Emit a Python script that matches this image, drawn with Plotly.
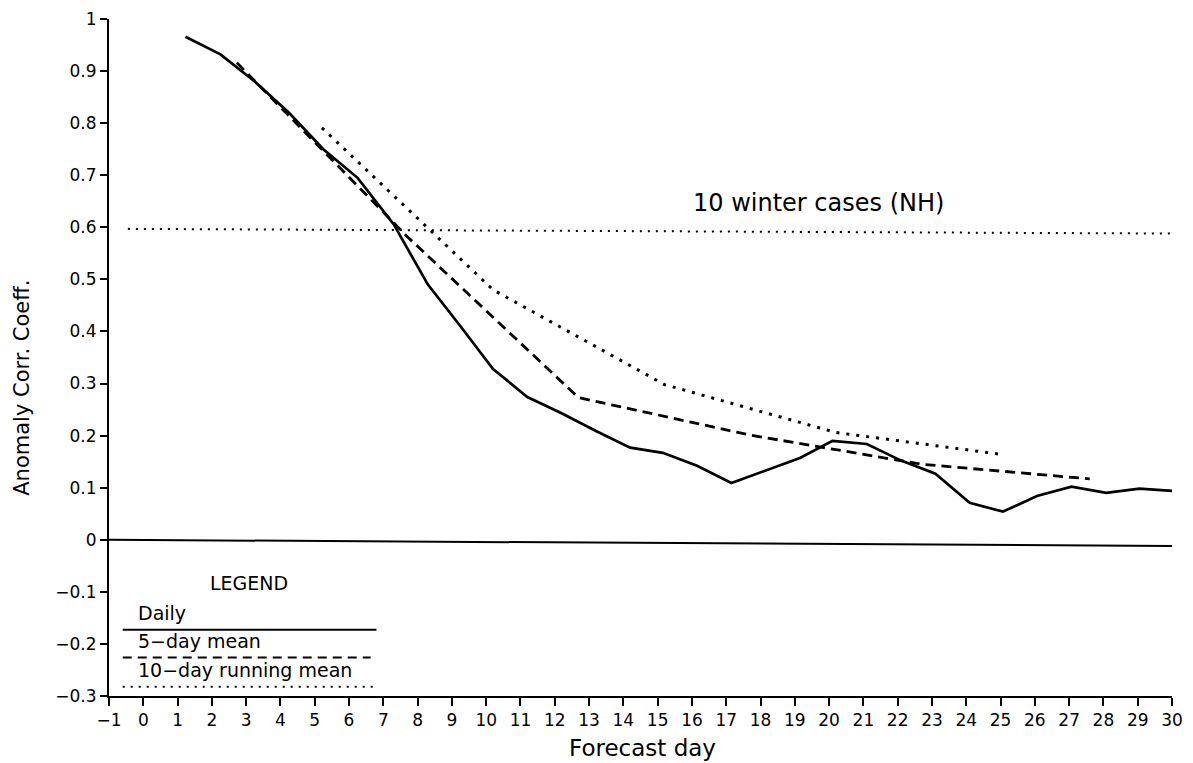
import plotly.graph_objects as go

# ---- data ----
daily_x = [1.23, 2.25, 3.25, 4.25, 5.25, 6.25, 7.3, 8.3, 9.25, 10.2, 11.2, 12.2, 13.2, 14.2,
           15.15, 16.15, 17.15, 18.15, 19.15, 20.1, 21.1, 22.1, 23.1, 24.1, 25.07, 26.06,
           27.07, 28.08, 29.05, 30.0]
daily_y = [0.966, 0.932, 0.880, 0.820, 0.750, 0.695, 0.606, 0.490, 0.410, 0.328, 0.274, 0.243,
           0.209, 0.177, 0.167, 0.142, 0.109, 0.133, 0.157, 0.190, 0.184, 0.152, 0.127, 0.071,
           0.054, 0.084, 0.102, 0.090, 0.098, 0.094]

mean5_x = [2.73, 7.7, 12.69, 17.7, 22.7, 27.6]
mean5_y = [0.916, 0.582, 0.273, 0.201, 0.145, 0.117]

run10_x = [5.21, 10.2, 15.2, 20.2, 25.02]
run10_y = [0.791, 0.480, 0.298, 0.206, 0.164]

threshold_x = [-0.45, 30.0]
threshold_y = [0.597, 0.588]

zero_x = [-1, 30]
zero_y = [0.0, -0.012]

x_ticks = list(range(-1, 31))
x_ticktext = [("\u2212" + str(-v)) if v < 0 else str(v) for v in x_ticks]
y_ticks = [-0.3, -0.2, -0.1, 0, 0.1, 0.2, 0.3, 0.4, 0.5, 0.6, 0.7, 0.8, 0.9, 1.0]
y_ticktext = ["\u22120.3", "\u22120.2", "\u22120.1", "0", "0.1", "0.2", "0.3", "0.4", "0.5",
              "0.6", "0.7", "0.8", "0.9", "1"]

legend_labels = ["Daily", "5\u2212day mean", "10\u2212day running mean"]
title_text = "10 winter cases (NH)"

FONT = "DejaVu Sans"
BLACK = "#000000"

fig = go.Figure()

fig.add_trace(go.Scatter(x=zero_x, y=zero_y, mode="lines",
                         line=dict(color=BLACK, width=2), showlegend=False, hoverinfo="skip"))
fig.add_trace(go.Scatter(x=threshold_x, y=threshold_y, mode="lines",
                         line=dict(color=BLACK, width=2, dash="2px,6px"), showlegend=False))
fig.add_trace(go.Scatter(x=run10_x, y=run10_y, mode="lines", name=legend_labels[2],
                         line=dict(color=BLACK, width=3, dash="3px,7px"), showlegend=False))
fig.add_trace(go.Scatter(x=mean5_x, y=mean5_y, mode="lines", name=legend_labels[1],
                         line=dict(color=BLACK, width=2.8, dash="10px,6px"), showlegend=False))
fig.add_trace(go.Scatter(x=daily_x, y=daily_y, mode="lines", name=legend_labels[0],
                         line=dict(color=BLACK, width=2.7), showlegend=False))

# hand-drawn legend block
legend_rows = [(-0.140, -0.173, "solid", 6.8),
               (-0.194, -0.226, "9px,6px", 6.63),
               (-0.251, -0.282, "2px,6px", 6.7)]
for label, (ty, ly, dash, x1) in zip(legend_labels, legend_rows):
    fig.add_annotation(x=-0.2, y=ty, text=label, showarrow=False, xanchor="left",
                       yanchor="middle", font=dict(family=FONT, size=19, color=BLACK))
    fig.add_shape(type="line", x0=-0.6, x1=x1, y0=ly, y1=ly,
                  line=dict(color=BLACK, width=2, dash=dash))

fig.add_annotation(x=3.07, y=-0.083, text="LEGEND", showarrow=False,
                   font=dict(family=FONT, size=19, color=BLACK))
fig.add_annotation(x=19.68, y=0.647, text=title_text, showarrow=False,
                   font=dict(family=FONT, size=24, color=BLACK))
fig.add_annotation(xref="paper", yref="paper", x=-0.082, y=0.455, text="Anomaly Corr. Coeff.",
                   showarrow=False, textangle=-90, xanchor="center", yanchor="middle",
                   font=dict(family=FONT, size=21, color=BLACK))
fig.add_annotation(xref="paper", yref="paper", x=0.502, y=-0.077, text="Forecast day",
                   showarrow=False, xanchor="center", yanchor="middle",
                   font=dict(family=FONT, size=23, color=BLACK))

fig.update_layout(
    width=1185, height=755,
    margin=dict(l=101, r=21, t=11, b=67, autoexpand=False),
    paper_bgcolor="white", plot_bgcolor="white",
    font=dict(family=FONT, color=BLACK),
    xaxis=dict(range=[-1, 30], tickmode="array", tickvals=x_ticks, ticktext=x_ticktext,
               showline=True, linecolor=BLACK, linewidth=2, ticks="outside", ticklen=8,
               tickwidth=2, tickcolor=BLACK, showgrid=False, zeroline=False, automargin=False,
               tickfont=dict(family=FONT, size=17, color=BLACK)),
    yaxis=dict(range=[-0.3, 1.0], tickmode="array", tickvals=y_ticks, ticktext=y_ticktext,
               showline=True, linecolor=BLACK, linewidth=2, ticks="outside", ticklen=7,
               tickwidth=2, tickcolor=BLACK, showgrid=False, zeroline=False, automargin=False,
               tickfont=dict(family=FONT, size=17, color=BLACK)),
)

fig.write_html("out.html")
